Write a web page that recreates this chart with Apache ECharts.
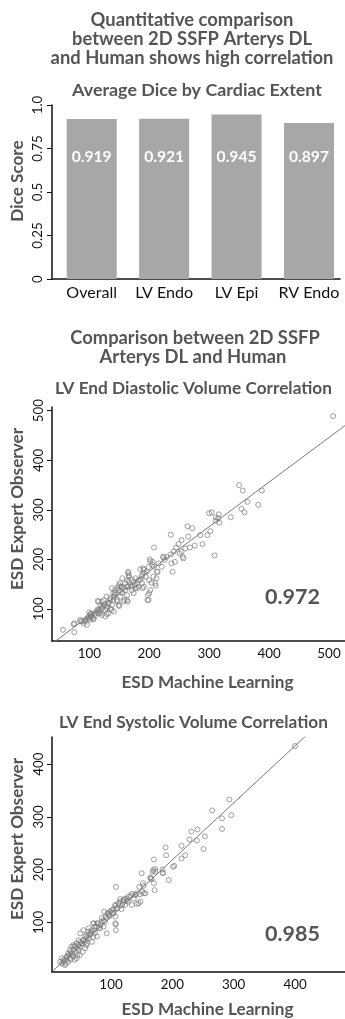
<!DOCTYPE html>
<html><head><meta charset="utf-8">
<script src="https://cdn.jsdelivr.net/npm/echarts@6/dist/echarts.min.js"></script>
<style>html,body{margin:0;padding:0;background:#fff;}#c{width:345px;height:1019px;}</style>
</head><body><div id="c"></div>
<script>
// ---------- DATA ----------
const diceCategories = ['Overall', 'LV Endo', 'LV Epi', 'RV Endo'];
const diceValues = [0.919, 0.921, 0.945, 0.897];
const diceTicks = [0, 0.25, 0.5, 0.75, 1];
const diceTickLabels = ['0', '0.25', '0.5', '0.75', '1.0'];

const edvTicksX = [100, 200, 300, 400, 500];
const edvTicksY = [100, 200, 300, 400, 500];
const edvFit = [0.90, -4];      // slope, intercept
const edvR = '0.972';
const edvPoints = [
 [350,350],[356,339],[388,339],[364,316],[354,302],[359,295],[382,310],[336,285],[300,293],[304,295],
 [316,291],[311,285],[315,283],[311,278],[317,274],[264,267],[272,263],[236,250],[265,246],[285,249],
 [302,257],[297,249],[289,231],[254,239],[249,231],[245,224],[276,228],[268,224],[260,222],[208,224],
 [254,216],[256,205],[251,212],[241,216],[236,210],[229,205],[224,204],[309,208],[257,202],[507,489],
 [243,195],[237,192],[239,175],[223,205],[226,199],[221,185],[201,200],[206,195],[208,185],[214,175],
 [212,162],[211,147],[200,132],[197,118],[200,158],[204,153],[185,180],[190,182],[191,173],[188,165],
 [182,158],[188,152],[191,145],[189,142],[174,155],[176,148],[179,142],[171,145],[165,175],[166,168],
 [163,158],[165,145],[160,138],[163,128],[159,118],[164,115],[147,115],[150,106],[151,152],[154,145],
 [147,142],[143,132],[153,135],[138,142],[140,132],[135,122],[140,118],[132,112],[129,125],[124,118],
 [126,108],[121,105],[129,102],[118,95],[113,98],[115,91],[110,91],[121,88],[129,90],[104,85],
 [107,81],[99,85],[101,78],[96,81],[100,93],[102,90],[93,75],[88,75],[85,78],[75,71],
 [75,53],[56,58],[114,116],[121,115],[118,108],
 [85,75],[91,71],[96,68],[93,78],[99,81],[102,88],[105,91],[103,83],[107,79],[110,86],
 [113,95],[116,98],[118,91],[121,101],[116,115],[124,108],[127,98],[130,105],[132,112],[135,118],
 [138,108],[141,125],[137,98],[143,128],[146,118],[149,138],[152,145],[155,132],[157,142],[160,152],
 [163,145],[166,155],[169,148],[171,159],[165,172],[177,162],[180,152],[182,145],[185,159],[188,169],
 [191,179],[194,165],[196,175],[199,185],[202,196],[205,189],[207,165],[210,152],[213,175],[216,192],
 [199,118],[198,128],[202,138],[166,165],[157,115],[163,118],[149,108],[141,95],[132,91],[127,85],
 [135,101],[152,125],[174,132],[177,142],[171,138],[155,162],[149,148],[143,138],[74,69]
];

const esvTicksX = [100, 200, 300, 400];
const esvTicksY = [100, 200, 300, 400];
const esvFit = [1.08, 2.3];     // slope, intercept
const esvR = '0.985';
const esvPoints = [
 [400,434],[293,333],[265,312],[296,303],[281,297],[281,277],[241,276],[231,272],[228,257],[240,255],
 [253,263],[251,239],[215,245],[221,227],[215,221],[189,242],[190,227],[170,219],[172,201],[168,196],
 [184,200],[184,194],[201,205],[203,207],[165,183],[170,174],[171,161],[150,193],[194,180],[108,167],
 [146,167],[152,174],[154,155],[147,153],[139,152],[142,135],[134,133],[126,145],[128,139],[120,142],
 [123,133],[115,144],[112,135],[117,125],[109,126],[107,133],[101,123],[104,117],[98,112],[96,118],
 [107,111],[108,96],[108,85],[93,108],[90,101],[85,108],[88,92],[79,98],[82,89],[77,92],
 [93,79],[71,98],[68,85],[74,80],[66,76],[71,72],[63,82],[60,70],[58,73],[55,65],
 [61,60],[52,60],[49,54],[47,66],[44,60],[41,55],[39,48],[43,44],[47,48],[39,57],
 [33,48],[30,41],[36,38],[33,32],[28,35],[25,29],[30,25],[22,25],[20,22],[25,19],
 [17,25],[41,29],[39,35],[44,32],[54,44],[58,51],[49,38],[60,57],
 [20,32],[23,29],[26,22],[28,34],[31,38],[34,44],[36,41],[42,54],[45,51],[47,57],
 [50,63],[53,60],[55,67],[61,76],[64,70],[66,79],[69,82],[72,85],[74,92],[77,98],
 [80,89],[83,95],[85,101],[88,104],[91,111],[94,117],[96,114],[99,120],[102,118],[104,125],
 [107,131],[110,127],[113,136],[115,139],[118,133],[121,142],[123,145],[126,141],[129,149],[132,150],
 [134,154],[137,145],[140,152],[142,155],[145,136],[148,139],[151,158],[153,169],[156,155],[107,98],
 [89,120],[36,54],[34,29],[45,38],[58,63],[69,63],[77,73],[64,89],[72,98],[50,79],
 [55,85],[169,199],[172,196],[185,193],[164,185],[166,182]
];

// ---------- STYLE HELPERS ----------
const FAM = 'Lato, "Open Sans", sans-serif';
const ctx = document.createElement('canvas').getContext('2d');
function fit(text, bold, target) {
  ctx.font = (bold ? 'bold ' : '') + '100px ' + FAM;
  return 100 * target / ctx.measureText(text).width;
}
const GRAY = '#555';
const titleSize = fit('and Human shows high correlation', true, 283);
const subSize = fit('Average Dice by Cardiac Extent', true, 250);
const sub2Size = fit('LV End Diastolic Volume Correlation', true, 277);
const axTitleSize = fit('ESD Machine Learning', true, 172);
const rSize = fit('0.972', true, 55);
const tickSize = fit('100', false, 23.3);
const catSize = fit('Overall', false, 50.7);
const barLabSize = fit('0.919', true, 40);

function txt(text, x, y, size, rot, color) {
  return {
    type: 'text', x: x, y: y, rotation: rot || 0, silent: true,
    style: {
      text: text, fill: color || GRAY, font: 'bold ' + size.toFixed(2) + 'px ' + FAM,
      align: 'center', verticalAlign: 'middle', textAlign: 'center', textVerticalAlign: 'middle'
    }
  };
}

const axisLineStyle = { show: true, onZero: false, lineStyle: { color: '#111', width: 1.5 } };
const tickLabel = { color: '#111', fontFamily: FAM, fontSize: tickSize };

function scatterAxes(gi, xmin, xmax, ymin, ymax, tx, ty) {
  return {
    x: {
      gridIndex: gi, type: 'value', min: xmin, max: xmax,
      axisLine: axisLineStyle, axisTick: { show: false }, splitLine: { show: false },
      axisLabel: Object.assign({ customValues: tx, margin: 6 }, tickLabel)
    },
    y: {
      gridIndex: gi, type: 'value', min: ymin, max: ymax,
      axisLine: axisLineStyle, splitLine: { show: false },
      axisTick: { show: true, customValues: ty, length: 5, lineStyle: { color: '#111', width: 1 } },
      axisLabel: Object.assign({ customValues: ty, rotate: 90, margin: 7 }, tickLabel)
    }
  };
}
const edvX = [37.8, 526.7], edvY = [35.4, 507.5];
const esvX = [3.8, 481.5], esvY = [5.8, 451.2];
const a1 = scatterAxes(1, edvX[0], edvX[1], edvY[0], edvY[1], edvTicksX, edvTicksY);
const a2 = scatterAxes(2, esvX[0], esvX[1], esvY[0], esvY[1], esvTicksX, esvTicksY);

function fitLine(fitP, xr) {
  return xr.map(x => [x, fitP[0] * x + fitP[1]]);
}
const pointStyle = { color: 'rgba(0,0,0,0)', borderColor: '#7a7a7a', borderWidth: 0.9 };

const option = {
  animation: false,
  backgroundColor: '#fff',
  grid: [
    { left: 52, top: 105, width: 288, height: 174 },
    { left: 52, top: 407, width: 293, height: 234 },
    { left: 52, top: 737, width: 293, height: 235 }
  ],
  xAxis: [
    {
      gridIndex: 0, type: 'value', min: -0.548, max: 3.428,
      axisLine: axisLineStyle, axisTick: { show: false }, splitLine: { show: false },
      axisLabel: { customValues: [0, 1, 2, 3], formatter: v => diceCategories[Math.round(v)],
        color: '#111', fontFamily: FAM, fontSize: catSize, margin: 6 }
    },
    a1.x, a2.x
  ],
  yAxis: [
    {
      gridIndex: 0, type: 'value', min: 0, max: 1, interval: 0.25,
      axisLine: axisLineStyle, splitLine: { show: false },
      axisTick: { show: true, length: 5, lineStyle: { color: '#111', width: 1 } },
      axisLabel: Object.assign({ rotate: 90, margin: 8,
        formatter: v => diceTickLabels[diceTicks.indexOf(Math.round(v * 100) / 100)] }, tickLabel)
    },
    a1.y, a2.y
  ],
  series: [
    {
      type: 'bar', xAxisIndex: 0, yAxisIndex: 0, barWidth: 50,
      data: diceValues.map((v, i) => [i, v]),
      itemStyle: { color: '#a7a7a9' },
      label: { show: true, position: 'insideBottom', distance: 114,
        formatter: p => p.value[1].toFixed(3), color: '#fff', fontWeight: 'bold',
        fontFamily: FAM, fontSize: barLabSize },
      silent: true
    },
    {
      type: 'line', xAxisIndex: 1, yAxisIndex: 1, data: fitLine(edvFit, edvX),
      showSymbol: false, symbol: 'none', clip: true, silent: true,
      lineStyle: { color: '#7a7a7a', width: 1 }
    },
    {
      type: 'scatter', xAxisIndex: 1, yAxisIndex: 1, data: edvPoints,
      symbol: 'circle', symbolSize: 5, itemStyle: pointStyle, silent: true
    },
    {
      type: 'line', xAxisIndex: 2, yAxisIndex: 2, data: fitLine(esvFit, esvX),
      showSymbol: false, symbol: 'none', clip: true, silent: true,
      lineStyle: { color: '#7a7a7a', width: 1 }
    },
    {
      type: 'scatter', xAxisIndex: 2, yAxisIndex: 2, data: esvPoints,
      symbol: 'circle', symbolSize: 5, itemStyle: pointStyle, silent: true
    }
  ],
  graphic: [
    txt('Quantitative comparison', 192, 20, titleSize),
    txt('between 2D SSFP Arterys DL', 192, 39.3, titleSize),
    txt('and Human shows high correlation', 192, 58.5, titleSize),
    txt('Average Dice by Cardiac Extent', 197, 90, subSize),
    txt('Dice Score', 17.5, 181, axTitleSize, Math.PI / 2),
    txt('Comparison between 2D SSFP', 195, 338.5, titleSize),
    txt('Arterys DL and Human', 193, 357, titleSize),
    txt('LV End Diastolic Volume Correlation', 193.5, 388.5, sub2Size),
    txt('ESD Expert Observer', 17.5, 509, axTitleSize, Math.PI / 2),
    txt(edvR, 292.5, 597, rSize),
    txt('ESD Machine Learning', 207.5, 682, axTitleSize),
    txt('LV End Systolic Volume Correlation', 193.5, 722, sub2Size),
    txt('ESD Expert Observer', 17.5, 839, axTitleSize, Math.PI / 2),
    txt(esvR, 292.5, 934.5, rSize),
    txt('ESD Machine Learning', 207.5, 1009.5, axTitleSize)
  ]
};
const chart = echarts.init(document.getElementById('c'), null, { renderer: 'canvas' });
chart.setOption(option);
</script>
</body></html>
